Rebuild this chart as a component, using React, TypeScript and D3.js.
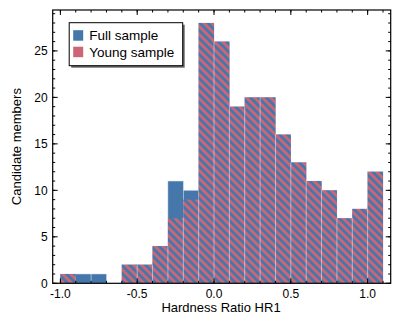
import React from "react";
import * as d3 from "d3";

// histogram bins of width 0.1 (left edges)
const binStarts = [-1.0, -0.9, -0.8, -0.7, -0.6, -0.5, -0.4, -0.3, -0.2, -0.1, 0.0, 0.1, 0.2, 0.3, 0.4, 0.5, 0.6, 0.7, 0.8, 0.9, 1.0];
const binWidth = 0.1;
const fullCounts = [1, 1, 1, 0, 2, 2, 4, 11, 10, 28, 26, 19, 20, 20, 16, 13, 11, 10, 7, 8, 12];
const youngCounts = [1, 0, 0, 0, 2, 2, 4, 7, 9, 28, 26, 19, 20, 20, 16, 13, 11, 10, 7, 8, 12];

const xTickLabels = [-1.0, -0.5, 0.0, 0.5, 1.0];
const yTickLabels = [0, 5, 10, 15, 20, 25];
const legendLabels = ["Full sample", "Young sample"];

const blue = "#4677ab";
const rose = "#cc6677";
const font = "'Liberation Sans', Arial, sans-serif";

const W = 403;
const H = 323;
const margin = { top: 10, right: 12.3, bottom: 39.7, left: 52.7 };

export default function App() {
  const innerW = W - margin.left - margin.right;
  const innerH = H - margin.top - margin.bottom;

  const x = d3.scaleLinear().domain([-1.05, 1.15]).range([0, innerW]);
  const y = d3.scaleLinear().domain([0, 28 * 1.05]).range([innerH, 0]);

  const xMinor = d3.range(-10, 12).map((i) => i / 10);
  const yMinor = d3.range(0, 30);

  return (
    <svg width={W} height={H} style={{ display: "block", margin: "-8px" }}>
      <defs>
        <pattern id="hatch" patternUnits="userSpaceOnUse" width={5.66} height={5.66} patternTransform="rotate(-45)">
          <rect width={5.66} height={5.66} fill={blue} />
          <rect width={2.83} height={5.66} fill={rose} />
        </pattern>
        <clipPath id="plot">
          <rect x={0} y={0} width={innerW} height={innerH} />
        </clipPath>
      </defs>
      <rect width={W} height={H} fill="white" />
      <g transform={`translate(${margin.left},${margin.top})`}>
        <g clipPath="url(#plot)">
          {binStarts.map((b, i) =>
            fullCounts[i] > 0 ? (
              <rect
                key={"f" + i}
                x={x(b)}
                y={y(fullCounts[i])}
                width={x(b + binWidth) - x(b)}
                height={y(0) - y(fullCounts[i])}
                fill={blue}
                stroke="#c9d8ea"
                strokeWidth={0.5}
              />
            ) : null
          )}
          {binStarts.map((b, i) =>
            youngCounts[i] > 0 ? (
              <rect
                key={"y" + i}
                x={x(b)}
                y={y(youngCounts[i])}
                width={x(b + binWidth) - x(b)}
                height={y(0) - y(youngCounts[i])}
                fill="url(#hatch)"
              />
            ) : null
          )}
          {/* thin light edges between neighbouring young bars */}
          {binStarts.map((b, i) =>
            i > 0 && youngCounts[i] > 0 && youngCounts[i - 1] > 0 ? (
              <line
                key={"s" + i}
                x1={x(b)}
                x2={x(b)}
                y1={y(0)}
                y2={y(Math.min(youngCounts[i], youngCounts[i - 1]))}
                stroke="#f4ecf0"
                strokeWidth={0.5}
              />
            ) : null
          )}
        </g>

        {/* minor ticks */}
        {xMinor.map((t) => (
          <g key={"xm" + t}>
            <line x1={x(t)} x2={x(t)} y1={innerH} y2={innerH - 2.5} stroke="black" strokeWidth={1} />
            <line x1={x(t)} x2={x(t)} y1={0} y2={2.5} stroke="black" strokeWidth={1} />
          </g>
        ))}
        {yMinor.map((t) => (
          <g key={"ym" + t}>
            <line x1={0} x2={2.5} y1={y(t)} y2={y(t)} stroke="black" strokeWidth={1} />
            <line x1={innerW} x2={innerW - 2.5} y1={y(t)} y2={y(t)} stroke="black" strokeWidth={1} />
          </g>
        ))}
        {/* major ticks + labels */}
        {xTickLabels.map((t) => (
          <g key={"x" + t}>
            <line x1={x(t)} x2={x(t)} y1={innerH} y2={innerH - 5} stroke="black" strokeWidth={1} />
            <line x1={x(t)} x2={x(t)} y1={0} y2={5} stroke="black" strokeWidth={1} />
            <text x={x(t)} y={innerH + 14.5} textAnchor="middle" fontFamily={font} fontSize={12} fill="black">
              {d3.format(".1f")(t).replace("−", "-")}
            </text>
          </g>
        ))}
        {yTickLabels.map((t) => (
          <g key={"y" + t}>
            <line x1={0} x2={5} y1={y(t)} y2={y(t)} stroke="black" strokeWidth={1} />
            <line x1={innerW} x2={innerW - 5} y1={y(t)} y2={y(t)} stroke="black" strokeWidth={1} />
            <text x={-5} y={y(t) + 4.2} textAnchor="end" fontFamily={font} fontSize={12} fill="black">
              {t}
            </text>
          </g>
        ))}
        <rect x={0} y={0} width={innerW} height={innerH} fill="none" stroke="black" strokeWidth={1.2} />

        {/* legend */}
        <g transform="translate(16.5,12.7)">
          <rect x={2} y={2} width={113.5} height={43} fill="#666" />
          <rect x={0} y={0} width={113.5} height={43} fill="white" stroke="black" strokeWidth={1} />
          {legendLabels.map((l, i) => (
            <g key={l} transform={`translate(4,${7.5 + i * 16.5})`}>
              <rect x={0} y={0} width={10} height={10.5} fill={i === 0 ? blue : rose} />
              <text x={16} y={9.8} fontFamily={font} fontSize={13.5} fill="black">
                {l}
              </text>
            </g>
          ))}
        </g>
      </g>

      <text x={221} y={312} textAnchor="middle" fontFamily={font} fontSize={13} fill="black">
        Hardness Ratio HR1
      </text>
      <text
        transform={`translate(21,${margin.top + innerH / 2}) rotate(-90)`}
        textAnchor="middle"
        fontFamily={font}
        fontSize={13}
        fill="black"
      >
        Candidate members
      </text>
    </svg>
  );
}
